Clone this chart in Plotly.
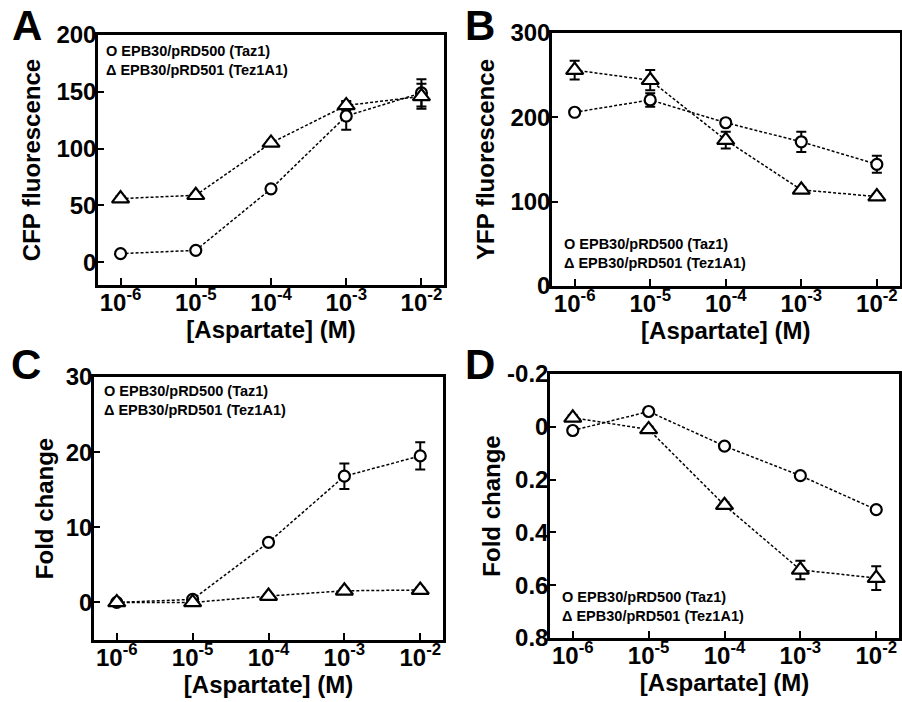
import plotly.graph_objects as go

# ---------------- data ----------------
conc = [1e-6, 1e-5, 1e-4, 1e-3, 1e-2]
conc_ticktext = ["10<sup>-6</sup>", "10<sup>-5</sup>", "10<sup>-4</sup>",
                 "10<sup>-3</sup>", "10<sup>-2</sup>"]

label_taz1 = "EPB30/pRD500 (Taz1)"
label_tez1a1 = "EPB30/pRD501 (Tez1A1)"

# Panel A: CFP fluorescence
cfp_taz1 = [7.6, 10.5, 64.6, 128.7, 149.0]
cfp_taz1_err = [1.5, 1.5, 2.0, 12.0, 12.0]
cfp_tez1a1 = [56.0, 59.0, 105.0, 138.0, 146.0]
cfp_tez1a1_err = [2.0, 2.0, 2.0, 4.0, 11.0]

# Panel B: YFP fluorescence
yfp_taz1 = [206.0, 220.6, 193.6, 171.0, 144.3]
yfp_taz1_err = [3.0, 8.0, 4.0, 12.0, 10.0]
yfp_tez1a1 = [256.0, 244.0, 173.0, 114.0, 106.0]
yfp_tez1a1_err = [11.0, 12.0, 10.0, 3.0, 3.0]

# Panel C: fold change (CFP)
foldc_taz1 = [0.0, 0.4, 8.0, 16.8, 19.5]
foldc_taz1_err = [0.3, 0.3, 0.4, 1.7, 1.8]
foldc_tez1a1 = [0.0, 0.0, 0.85, 1.55, 1.65]
foldc_tez1a1_err = [0.2, 0.2, 0.2, 0.3, 0.3]

# Panel D: fold change (YFP)
foldy_taz1 = [0.014, -0.058, 0.073, 0.185, 0.314]
foldy_taz1_err = [0.01, 0.01, 0.01, 0.01, 0.01]
foldy_tez1a1 = [-0.034, 0.01, 0.297, 0.542, 0.573]
foldy_tez1a1_err = [0.01, 0.01, 0.01, 0.035, 0.045]

# y tick values / labels
a_ticks = [0, 50, 100, 150, 200]
b_ticks = [0, 100, 200, 300]
c_ticks = [0, 10, 20, 30]
d_ticks = [-0.2, 0, 0.2, 0.4, 0.6, 0.8]
d_ticktext = ["-0.2", "0", "0.2", "0.4", "0.6", "0.8"]

# ---------------- layout ----------------
W, H = 902, 702
FONT = "Liberation Sans, Arial, sans-serif"


def px_x(a, b):
    return [a / W, b / W]


def px_y(top, bottom):
    return [(H - bottom) / H, (H - top) / H]


panels = [
    dict(letter="A", taz=cfp_taz1, taz_err=cfp_taz1_err, tez=cfp_tez1a1, tez_err=cfp_tez1a1_err,
         xdom=px_x(98, 444), ydom=px_y(35, 285), yrange=[-20, 200], yticks=a_ticks, yticktext=None,
         ytitle="CFP fluorescence", ystand=10, let_pos=(27, 25), leg_pos=(104, 60)),
    dict(letter="B", taz=yfp_taz1, taz_err=yfp_taz1_err, tez=yfp_tez1a1, tez_err=yfp_tez1a1_err,
         xdom=px_x(552, 899.5), ydom=px_y(33, 286), yrange=[0, 300], yticks=b_ticks, yticktext=None,
         ytitle="YFP fluorescence", ystand=10, let_pos=(480, 25), leg_pos=(562, 253.5)),
    dict(letter="C", taz=foldc_taz1, taz_err=foldc_taz1_err, tez=foldc_tez1a1, tez_err=foldc_tez1a1_err,
         xdom=px_x(94, 443), ydom=px_y(377, 640), yrange=[-5, 30], yticks=c_ticks, yticktext=None,
         ytitle="Fold change", ystand=6, let_pos=(26, 364), leg_pos=(102, 400.5)),
    dict(letter="D", taz=foldy_taz1, taz_err=foldy_taz1_err, tez=foldy_tez1a1, tez_err=foldy_tez1a1_err,
         xdom=px_x(550, 899), ydom=px_y(374, 638), yrange=[0.8, -0.2], yticks=d_ticks, yticktext=d_ticktext,
         ytitle="Fold change", ystand=0, let_pos=(480, 364), leg_pos=(560, 606)),
]

fig = go.Figure()
bold = dict(family=FONT, color="black", weight="bold")
annotations = []
layout_axes = {}

for i, p in enumerate(panels):
    n = "" if i == 0 else str(i + 1)
    xa, ya = "x" + n, "y" + n
    for vals, errs, sym, size in [(p["taz"], p["taz_err"], "circle", 11),
                                  (p["tez"], p["tez_err"], "triangle-up", 15)]:
        fig.add_trace(go.Scatter(
            x=conc, y=vals, xaxis=xa, yaxis=ya, mode="lines+markers", showlegend=False,
            line=dict(color="black", width=1.5, dash="3px,2px"),
            marker=dict(symbol=sym, size=size, color="white", line=dict(color="black", width=2.2)),
            error_y=dict(type="data", array=errs, visible=True, color="black", thickness=2, width=5),
        ))

    layout_axes["xaxis" + n] = dict(
        type="log", range=[-6.3, -1.7], domain=p["xdom"], anchor=ya,
        tickmode="array", tickvals=conc, ticktext=conc_ticktext,
        ticks="inside", ticklen=7, tickwidth=2, tickcolor="black", ticklabelstandoff=-6,
        showline=True, linewidth=2.5, linecolor="black", mirror=True,
        showgrid=False, zeroline=False, automargin=False,
        tickfont=dict(size=24, **bold),
        title=dict(text="[Aspartate] (M)", font=dict(size=24, **bold), standoff=1),
    )
    yax = dict(
        range=p["yrange"], domain=p["ydom"], anchor=xa,
        tickmode="array", tickvals=p["yticks"],
        ticks="inside", ticklen=6, tickwidth=2, tickcolor="black", ticklabelstandoff=-6,
        showline=True, linewidth=2.5, linecolor="black", mirror=True,
        showgrid=False, zeroline=False, automargin=False,
        tickfont=dict(size=24, **bold),
        title=dict(text=p["ytitle"], font=dict(size=24, **bold), standoff=p["ystand"]),
    )
    if p["yticktext"] is not None:
        yax["ticktext"] = p["yticktext"]
    layout_axes["yaxis" + n] = yax

    # panel letter
    lx, ly = p["let_pos"]
    annotations.append(dict(text=p["letter"], x=lx / W, y=1 - ly / H, xref="paper", yref="paper",
                            xanchor="center", yanchor="middle", showarrow=False,
                            font=dict(size=42, **bold)))
    # legend box (glyph symbols, as in the original figure)
    gx, gy = p["leg_pos"]
    annotations.append(dict(text="O " + label_taz1 + "<br>Δ " + label_tez1a1,
                            x=gx / W, y=1 - gy / H, xref="paper", yref="paper",
                            xanchor="left", yanchor="middle", align="left",
                            showarrow=False, font=dict(size=14.5, **bold)))

fig.update_layout(
    width=W, height=H, margin=dict(l=0, r=0, t=0, b=0),
    paper_bgcolor="white", plot_bgcolor="white",
    font=dict(family=FONT, color="black"),
    annotations=annotations, showlegend=False,
    **layout_axes,
)

fig.write_html("out.html", config={"displayModeBar": False},
               post_script="document.body.style.margin='0';document.body.style.overflow='hidden';")
